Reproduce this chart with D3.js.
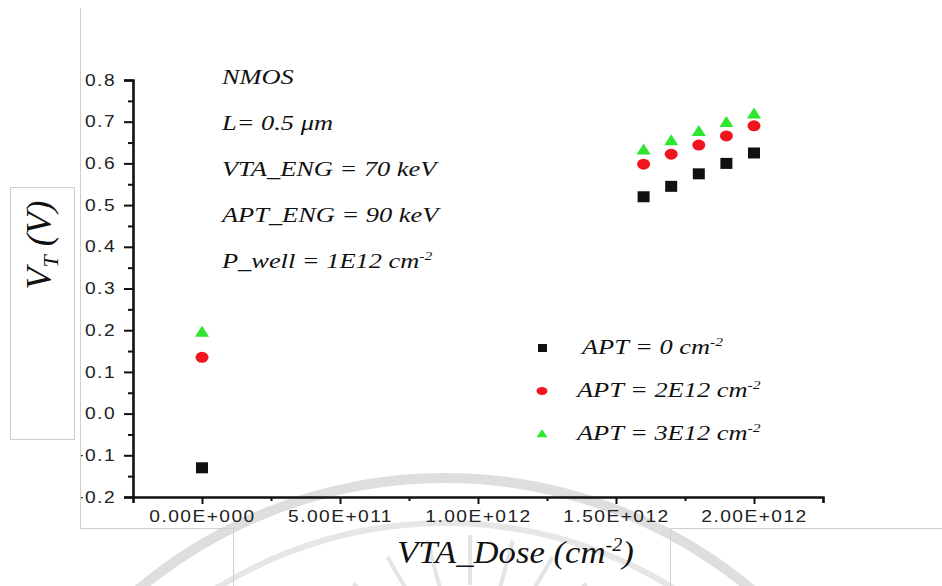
<!DOCTYPE html>
<html>
<head>
<meta charset="utf-8">
<script src="https://cdn.jsdelivr.net/npm/d3@7"></script>
<style>
  body { margin: 0; background: #fff; }
  svg { display: block; }
  .tick text { font-family: "Liberation Sans", Arial, sans-serif; font-size: 16px; fill: #222; letter-spacing: 1.2px; }
  .note { font-family: "Liberation Serif", "Times New Roman", serif; font-style: italic; fill: #111; }
</style>
</head>
<body>
<svg id="chart" width="942" height="586"></svg>
<script>
// data
const doses = [0, 1.6e12, 1.7e12, 1.8e12, 1.9e12, 2.0e12];
const apt0 = [-0.13, 0.52, 0.545, 0.575, 0.60, 0.625];
const apt2 = [0.135, 0.598, 0.622, 0.644, 0.666, 0.69];
const apt3 = [0.195, 0.632, 0.654, 0.676, 0.698, 0.718];
const seriesNames = ['APT = 0 cm', 'APT = 2E12 cm', 'APT = 3E12 cm'];
const xMajor = [0, 5e11, 1e12, 1.5e12, 2e12];
const xMinor = [2.5e11, 7.5e11, 1.25e12, 1.75e12];
const yMajor = [-0.2, -0.1, 0, 0.1, 0.2, 0.3, 0.4, 0.5, 0.6, 0.7, 0.8];
const yMinor = [-0.15, -0.05, 0.05, 0.15, 0.25, 0.35, 0.45, 0.55, 0.65, 0.75];
const notes = ['NMOS', 'L= 0.5 \u03bcm', 'VTA_ENG = 70 keV', 'APT_ENG = 90 keV', 'P_well = 1E12 cm'];

const svg = d3.select('svg#chart');
const stretch = 1.2;

// faint watermark behind the plot
const wm = svg.append('g').attr('fill', 'none');
wm.append('circle').attr('cx', 445).attr('cy', 955).attr('r', 477)
    .attr('stroke', '#dedede').attr('stroke-width', 10);
wm.append('circle').attr('cx', 445).attr('cy', 955).attr('r', 432)
    .attr('stroke', '#e6e6e6').attr('stroke-width', 6);
d3.range(-150, -25, 15).forEach(a => {
    const r = a * Math.PI / 180;
    wm.append('line')
        .attr('x1', 470 + 115 * Math.cos(r)).attr('y1', 700 + 115 * Math.sin(r))
        .attr('x2', 470 + 165 * Math.cos(r)).attr('y2', 700 + 165 * Math.sin(r))
        .attr('stroke', '#e4e4e4').attr('stroke-width', 4);
});

// page frame lines and title boxes
const frame = svg.append('g').attr('stroke', '#cfcfcf').attr('stroke-width', 1).attr('fill', 'none');
frame.append('path').attr('d', 'M80.5,8V528.5H233.5V586M670.5,586V528.5H942');
frame.append('rect').attr('x', 10.5).attr('y', 187.5).attr('width', 64).attr('height', 252);

const x = d3.scaleLinear().domain([-2.5e11, 2.25e12]).range([133, 823]);
const y = d3.scaleLinear().domain([-0.2, 0.8]).range([497, 80]);

const sciFmt = v => {
    if (v === 0) return '0.00E+000';
    const e = Math.floor(Math.log10(v));
    return (v / Math.pow(10, e)).toFixed(2) + 'E+' + String(e).padStart(3, '0');
};

svg.append('clipPath').attr('id', 'clip')
    .append('rect').attr('x', 81).attr('y', 0).attr('width', 861).attr('height', 586);

const g = svg.append('g').attr('clip-path', 'url(#clip)');

// x axis
const gx = g.append('g').attr('transform', `translate(0,${y(-0.2)})`)
    .call(d3.axisBottom(x).tickValues(xMajor).tickSize(7).tickSizeOuter(6).tickFormat(sciFmt));
gx.selectAll('.tick text').attr('y', 0).attr('dy', null)
    .attr('transform', `translate(0,25) scale(${stretch},1)`);
g.append('g').attr('transform', `translate(0,${y(-0.2)})`)
    .call(d3.axisBottom(x).tickValues(xMinor).tickSize(4).tickFormat(''))
    .select('.domain').remove();

// y axis
const gy = g.append('g').attr('transform', `translate(${x(-2.5e11)},0)`)
    .call(d3.axisLeft(y).tickValues(yMajor).tickSize(9).tickSizeOuter(9).tickFormat(d3.format('.1f')));
gy.selectAll('.tick text').attr('x', 0)
    .attr('transform', `translate(-17,0) scale(${stretch},1)`);
g.append('g').attr('transform', `translate(${x(-2.5e11)},0)`)
    .call(d3.axisLeft(y).tickValues(yMinor).tickSize(5).tickFormat(''))
    .select('.domain').remove();

g.selectAll('.domain').attr('stroke', '#111').attr('stroke-width', 2.6);
g.selectAll('.tick line').attr('stroke', '#111').attr('stroke-width', 2);

// markers
const squarePts = doses.map((d, i) => [x(d), y(apt0[i])]);
const circlePts = doses.map((d, i) => [x(d), y(apt2[i])]);
const triPts = doses.map((d, i) => [x(d), y(apt3[i])]);

const triPath = (w, h) => `M0,${-h * 0.6}L${w / 2},${h * 0.4}L${-w / 2},${h * 0.4}Z`;

svg.append('g').selectAll('rect').data(squarePts).enter().append('rect')
    .attr('x', d => d[0] - 6).attr('y', d => d[1] - 5.5)
    .attr('width', 12).attr('height', 11).attr('fill', '#111');
svg.append('g').selectAll('ellipse').data(circlePts).enter().append('ellipse')
    .attr('cx', d => d[0]).attr('cy', d => d[1]).attr('rx', 6.5).attr('ry', 5.5)
    .attr('fill', '#f0141e');
svg.append('g').selectAll('path').data(triPts).enter().append('path')
    .attr('transform', d => `translate(${d[0]},${d[1]})`)
    .attr('d', triPath(14, 11)).attr('fill', '#2ee62e');

// annotation block
const noteY = [84, 130, 176, 222, 268];
notes.forEach((t, i) => {
    const txt = svg.append('text').attr('class', 'note').attr('font-size', 22)
        .attr('transform', `translate(222,${noteY[i]}) scale(${stretch},1)`)
        .text(t);
    if (i === notes.length - 1) {
        txt.append('tspan').attr('dy', -8).attr('font-size', 13).text('-2');
    }
});

// legend
const legY = [348, 391, 434];
const legX = [582, 577, 577];
const leg = svg.append('g');
leg.append('rect').attr('x', 538).attr('y', legY[0] - 4).attr('width', 9).attr('height', 8).attr('fill', '#111');
leg.append('ellipse').attr('cx', 542).attr('cy', legY[1]).attr('rx', 5.5).attr('ry', 4).attr('fill', '#f0141e');
leg.append('path').attr('transform', `translate(542,${legY[2]})`).attr('d', triPath(11, 8)).attr('fill', '#2ee62e');
seriesNames.forEach((t, i) => {
    const txt = leg.append('text').attr('class', 'note').attr('font-size', 22)
        .attr('transform', `translate(${legX[i]},${legY[i] + 6}) scale(${stretch},1)`)
        .text(t);
    txt.append('tspan').attr('dy', -8).attr('font-size', 13).text('-2');
});

// axis titles
const yt = svg.append('text').attr('class', 'note').attr('font-size', 36)
    .attr('text-anchor', 'middle')
    .attr('transform', 'translate(51,245) rotate(-90)');
yt.append('tspan').text('V');
yt.append('tspan').attr('font-size', 22).attr('dy', 7).text('T');
yt.append('tspan').attr('dy', -7).text(' (V)');

const xt = svg.append('text').attr('class', 'note').attr('font-size', 31)
    .attr('transform', `translate(397,563) scale(1.12,1)`);
xt.append('tspan').text('VTA_Dose (cm');
xt.append('tspan').attr('font-size', 18).attr('dy', -12).text('-2');
xt.append('tspan').attr('dy', 12).text(')');
</script>
</body>
</html>
